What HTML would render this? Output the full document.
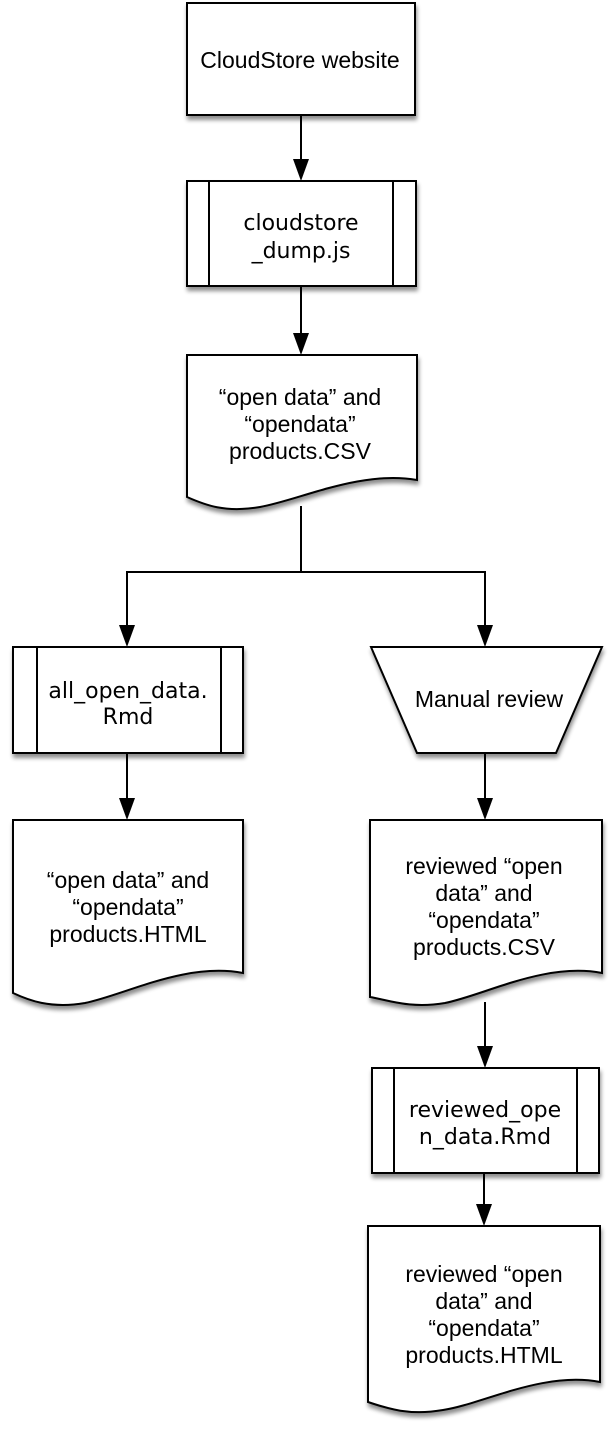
<!DOCTYPE html>
<html><head><meta charset="utf-8"><style>
html,body{margin:0;padding:0;background:#fff;}
svg{display:block;}
text{font-family:"Liberation Sans",Arial,sans-serif;font-size:23px;fill:#000;text-anchor:middle;}
.g{font-family:"DejaVu Sans",sans-serif;font-size:22px;}
</style></head><body>
<svg width="612" height="1438" viewBox="0 0 612 1438" xmlns="http://www.w3.org/2000/svg">
<defs>
<filter id="sh" x="-10%" y="-10%" width="130%" height="130%">
<feGaussianBlur in="SourceAlpha" stdDeviation="2"/>
<feOffset dx="1" dy="4" result="b"/>
<feComponentTransfer><feFuncA type="linear" slope="0.45"/></feComponentTransfer>
<feMerge><feMergeNode/><feMergeNode in="SourceGraphic"/></feMerge>
</filter>
</defs>
<g fill="#fff" stroke="#000" stroke-width="2" filter="url(#sh)">
<rect x="187" y="3" width="228" height="112"/>
<rect x="187" y="181" width="229" height="105"/>
<path d="M187 355 H417 V480 C360 470 300 500 260 507 C225 513 205 505 187 497 Z"/>
<rect x="13" y="647" width="230" height="106"/>
<path d="M371 647 H602 L556 753 H417 Z"/>
<path d="M13 820 H243 V973 C185 962 125 995 85 1003 C50 1009 28 1000 13 993 Z"/>
<path d="M370 820 H602 V973 C545 962 485 995 445 1003 C410 1009 388 1000 370 997 Z"/>
<rect x="372" y="1068" width="227" height="105"/>
<path d="M368 1226 H600 V1382 C543 1371 483 1404 443 1410 C408 1416 386 1408 368 1402 Z"/>
</g>
<g stroke="#000" stroke-width="2" fill="none">
<line x1="209" y1="181" x2="209" y2="286"/>
<line x1="393" y1="181" x2="393" y2="286"/>
<line x1="37" y1="647" x2="37" y2="753"/>
<line x1="221" y1="647" x2="221" y2="753"/>
<line x1="394" y1="1068" x2="394" y2="1173"/>
<line x1="577" y1="1068" x2="577" y2="1173"/>
<line x1="301" y1="115" x2="301" y2="166"/>
<line x1="301" y1="286" x2="301" y2="338"/>
<polyline points="301,506 301,572 127,572 127,633"/>
<polyline points="301,572 485,572 485,633"/>
<line x1="127" y1="753" x2="127" y2="806"/>
<line x1="485" y1="753" x2="485" y2="806"/>
<line x1="485" y1="1002" x2="485" y2="1054"/>
<line x1="484" y1="1173" x2="484" y2="1212"/>
</g>
<g fill="#000">
<polygon points="293,159 309,159 301,181"/>
<polygon points="293,333 309,333 301,355"/>
<polygon points="119,625 135,625 127,647"/>
<polygon points="477,625 493,625 485,647"/>
<polygon points="119,798 135,798 127,820"/>
<polygon points="477,798 493,798 485,820"/>
<polygon points="477,1046 493,1046 485,1068"/>
<polygon points="476,1204 492,1204 484,1226"/>
</g>
<text x="300" y="68">CloudStore website</text>
<text class="g" x="301" y="230">cloudstore</text>
<text class="g" x="301" y="258">_dump.js</text>
<text x="300" y="405">“open data” and</text>
<text x="300" y="432">“opendata”</text>
<text x="300" y="459">products.CSV</text>
<text class="g" x="128" y="698">all_open_data.</text>
<text class="g" x="128" y="724">Rmd</text>
<text x="489" y="707">Manual review</text>
<text x="128" y="888">“open data” and</text>
<text x="128" y="915">“opendata”</text>
<text x="128" y="942">products.HTML</text>
<text x="484" y="874">reviewed “open</text>
<text x="484" y="901">data” and</text>
<text x="484" y="928">“opendata”</text>
<text x="484" y="955">products.CSV</text>
<text class="g" x="485" y="1117">reviewed_ope</text>
<text class="g" x="485" y="1144">n_data.Rmd</text>
<text x="484" y="1282">reviewed “open</text>
<text x="484" y="1309">data” and</text>
<text x="484" y="1336">“opendata”</text>
<text x="484" y="1363">products.HTML</text>
</svg>
</body></html>
